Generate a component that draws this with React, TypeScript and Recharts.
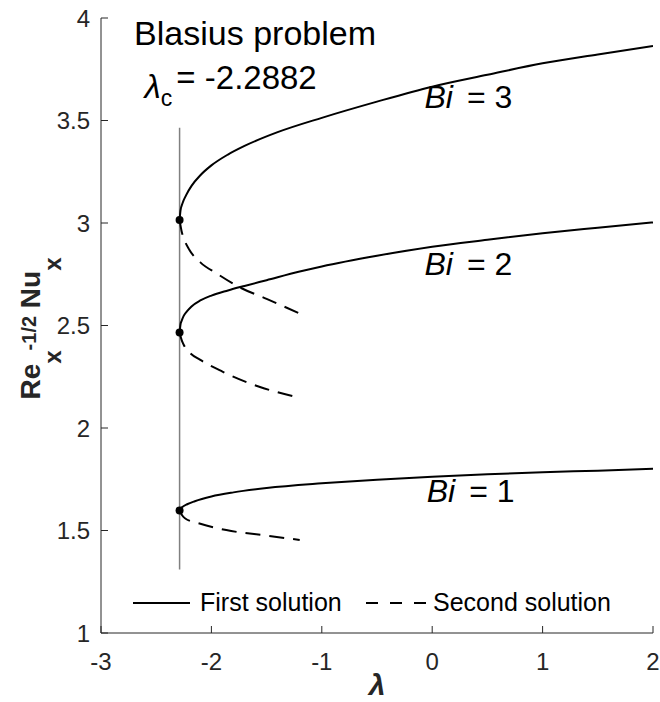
import React from "react";
import {
  ComposedChart,
  Line,
  Scatter,
  XAxis,
  YAxis,
  ReferenceLine,
  ReferenceDot,
  Legend,
} from "recharts";

// critical value of lambda (turning point)
const lambdaC = -2.2882;

// [lambda, Re^-1/2 Nu]
const bi3First = [
  [-2.2882, 3.015], [-2.28, 3.06], [-2.26, 3.099], [-2.23, 3.135], [-2.18, 3.181],
  [-2.1, 3.233], [-2.0, 3.281], [-1.85, 3.334], [-1.7, 3.376], [-1.4, 3.443],
  [-1.0, 3.513], [-0.5, 3.592], [0, 3.665], [0.5, 3.723], [1, 3.779], [1.5, 3.822], [2, 3.863],
];
const bi3Second = [
  [-2.2882, 3.015], [-2.27, 2.96], [-2.25, 2.925], [-2.2, 2.87], [-2.1, 2.808],
  [-1.95, 2.753], [-1.75, 2.688], [-1.5, 2.63], [-1.2, 2.558],
];
const bi2First = [
  [-2.2882, 2.466], [-2.28, 2.505], [-2.27, 2.522], [-2.25, 2.548], [-2.22, 2.57],
  [-2.18, 2.593], [-2.1, 2.622], [-2.0, 2.646], [-1.85, 2.671], [-1.7, 2.693],
  [-1.5, 2.721], [-1.2, 2.763], [-1.0, 2.788], [-0.5, 2.84], [0, 2.884],
  [0.5, 2.918], [1, 2.95], [1.5, 2.977], [2, 3.003],
];
const bi2Second = [
  [-2.2882, 2.466], [-2.27, 2.43], [-2.25, 2.405], [-2.2, 2.37], [-2.1, 2.332],
  [-1.9, 2.275], [-1.56, 2.2], [-1.2, 2.148],
];
const bi1First = [
  [-2.2882, 1.597], [-2.28, 1.607], [-2.26, 1.616], [-2.22, 1.628], [-2.15, 1.643],
  [-2.0, 1.666], [-1.8, 1.686], [-1.5, 1.707], [-1.0, 1.73], [-0.5, 1.748],
  [0, 1.762], [0.5, 1.774], [1, 1.784], [1.5, 1.792], [2, 1.801],
];
const bi1Second = [
  [-2.2882, 1.597], [-2.27, 1.578], [-2.24, 1.56], [-2.1, 1.533], [-1.865, 1.502],
  [-1.5, 1.475], [-1.2, 1.454],
];
const criticalPoints = [
  [lambdaC, 3.015],
  [lambdaC, 2.466],
  [lambdaC, 1.597],
];

const xTicks = [-3, -2, -1, 0, 1, 2];
const yTicks = [1, 1.5, 2, 2.5, 3, 3.5, 4];
const biLabels = ["3", "2", "1"];

const toPts = (arr: number[][]) => arr.map(([x, y]) => ({ x, y }));

const FONT = "'Liberation Sans', Arial, sans-serif";
const AXIS = "#262626";

const BottomTick = (p: any) => (
  <g>
    <line x1={p.x} y1={p.y} x2={p.x} y2={p.y - 7} stroke={AXIS} />
    <text x={p.x} y={p.y + 37} textAnchor="middle" fontSize={24} fill={AXIS} fontFamily={FONT}>
      {p.payload.value}
    </text>
  </g>
);
const TopTick = (p: any) => <line x1={p.x} y1={p.y} x2={p.x} y2={p.y + 7} stroke={AXIS} />;
const LeftTick = (p: any) => (
  <g>
    <line x1={p.x} y1={p.y} x2={p.x + 7} y2={p.y} stroke={AXIS} />
    <text x={p.x - 11} y={p.y + 8.5} textAnchor="end" fontSize={24} fill={AXIS} fontFamily={FONT}>
      {p.payload.value}
    </text>
  </g>
);
const RightTick = (p: any) => <line x1={p.x} y1={p.y} x2={p.x - 7} y2={p.y} stroke={AXIS} />;

const Dot = (p: any) => <circle cx={p.cx} cy={p.cy} r={4} fill="#000" />;

const BiText = (value: string) => (p: any) => (
  <text x={p.cx} y={p.cy} fontSize={32} fontFamily={FONT} fill="#000">
    <tspan fontStyle="italic">Bi</tspan>
    <tspan dx={14}>= {value}</tspan>
  </text>
);

const TitleText = (p: any) => (
  <text x={p.cx} y={p.cy} fontSize={34} fontFamily={FONT} fill="#000">
    Blasius problem
  </text>
);

const LambdaCText = (p: any) => (
  <text x={p.cx} y={p.cy} fontSize={33} fontFamily={FONT} fill="#000">
    <tspan fontStyle="italic" dy={9}>λ</tspan>
    <tspan fontSize={23} dy={8}>c</tspan>
    <tspan dy={-17} dx={4}>= -2.2882</tspan>
  </text>
);

const renderLegend = () => (
  <svg width={520} height={32}>
    <line x1={3} y1={15} x2={60} y2={15} stroke="#000" strokeWidth={2} />
    <text x={70} y={23} fontSize={25} fontFamily={FONT} fill="#000">First solution</text>
    <line x1={236} y1={15} x2={296} y2={15} stroke="#000" strokeWidth={2} strokeDasharray="12 12" />
    <text x={303} y={23} fontSize={25} fontFamily={FONT} fill="#000">Second solution</text>
  </svg>
);

export default function App() {
  return (
    <div style={{ position: "absolute", left: 0, top: 0, width: 660, height: 702, background: "#fff" }}>
      <ComposedChart width={660} height={702} margin={{ top: 18, right: 7, bottom: 0, left: 0 }}>
        <XAxis
          dataKey="x"
          type="number"
          domain={[-3, 2]}
          ticks={xTicks}
          height={69}
          tickSize={0}
          tickMargin={0}
          tickLine={false}
          stroke={AXIS}
          tick={BottomTick}
          allowDataOverflow
          label={{
            content: (props: any) => {
              const vb = props.viewBox;
              return (
                <text
                  x={vb.x + vb.width / 2}
                  y={vb.y + 62}
                  textAnchor="middle"
                  fontSize={30}
                  fontWeight="bold"
                  fontStyle="italic"
                  fontFamily={FONT}
                  fill={AXIS}
                >
                  λ
                </text>
              );
            },
          }}
        />
        <XAxis
          xAxisId="top"
          orientation="top"
          type="number"
          domain={[-3, 2]}
          ticks={xTicks}
          height={0}
          tickSize={0}
          tickMargin={0}
          tickLine={false}
          stroke={AXIS}
          tick={TopTick}
          allowDataOverflow
        />
        <YAxis
          dataKey="y"
          type="number"
          domain={[1, 4]}
          ticks={yTicks}
          width={101}
          tickSize={0}
          tickMargin={0}
          tickLine={false}
          stroke={AXIS}
          tick={LeftTick}
          allowDataOverflow
          label={{
            content: (props: any) => {
              const vb = props.viewBox;
              const cx = 40;
              const cy = vb.y + vb.height / 2 + 3;
              return (
                <text
                  x={cx}
                  y={cy}
                  transform={`rotate(-90 ${cx} ${cy})`}
                  textAnchor="middle"
                  fontSize={28}
                  fontWeight="bold"
                  fontFamily={FONT}
                  fill={AXIS}
                >
                  <tspan>Re</tspan>
                  <tspan fontSize={24} dy={21}>x</tspan>
                  <tspan fontSize={20} dy={-25}>-1/2</tspan>
                  <tspan dy={4}> Nu</tspan>
                  <tspan fontSize={24} dy={21}>x</tspan>
                </text>
              );
            },
          }}
        />
        <YAxis
          yAxisId="right"
          orientation="right"
          type="number"
          domain={[1, 4]}
          ticks={yTicks}
          width={0}
          tickSize={0}
          tickMargin={0}
          tickLine={false}
          stroke={AXIS}
          tick={RightTick}
          allowDataOverflow
        />

        <ReferenceLine
          segment={[
            { x: lambdaC, y: 1.31 },
            { x: lambdaC, y: 3.465 },
          ]}
          stroke="#808080"
          strokeWidth={1.5}
        />

        <Line data={toPts(bi3First)} dataKey="y" type="monotone" stroke="#000" strokeWidth={2} dot={false} isAnimationActive={false} name="First solution" />
        <Line data={toPts(bi2First)} dataKey="y" type="monotone" stroke="#000" strokeWidth={2} dot={false} isAnimationActive={false} legendType="none" />
        <Line data={toPts(bi1First)} dataKey="y" type="monotone" stroke="#000" strokeWidth={2} dot={false} isAnimationActive={false} legendType="none" />
        <Line data={toPts(bi3Second)} dataKey="y" type="monotone" stroke="#000" strokeWidth={2} strokeDasharray="15 9" dot={false} isAnimationActive={false} name="Second solution" />
        <Line data={toPts(bi2Second)} dataKey="y" type="monotone" stroke="#000" strokeWidth={2} strokeDasharray="15 9" dot={false} isAnimationActive={false} legendType="none" />
        <Line data={toPts(bi1Second)} dataKey="y" type="monotone" stroke="#000" strokeWidth={2} strokeDasharray="15 9" dot={false} isAnimationActive={false} legendType="none" />
        <Scatter data={toPts(criticalPoints)} dataKey="y" shape={Dot} isAnimationActive={false} legendType="none" />

        <ReferenceDot x={-2.7} y={3.868} r={0} shape={TitleText} />
        <ReferenceDot x={-2.605} y={3.654} r={0} shape={LambdaCText} />
        <ReferenceDot x={-0.07} y={3.561} r={0} shape={BiText(biLabels[0])} />
        <ReferenceDot x={-0.07} y={2.746} r={0} shape={BiText(biLabels[1])} />
        <ReferenceDot x={-0.05} y={1.639} r={0} shape={BiText(biLabels[2])} />

        <Legend
          layout="horizontal"
          verticalAlign="middle"
          align="center"
          content={renderLegend}
          wrapperStyle={{ position: "absolute", left: 130, top: 588, width: 520, height: 32 }}
        />
      </ComposedChart>
    </div>
  );
}
